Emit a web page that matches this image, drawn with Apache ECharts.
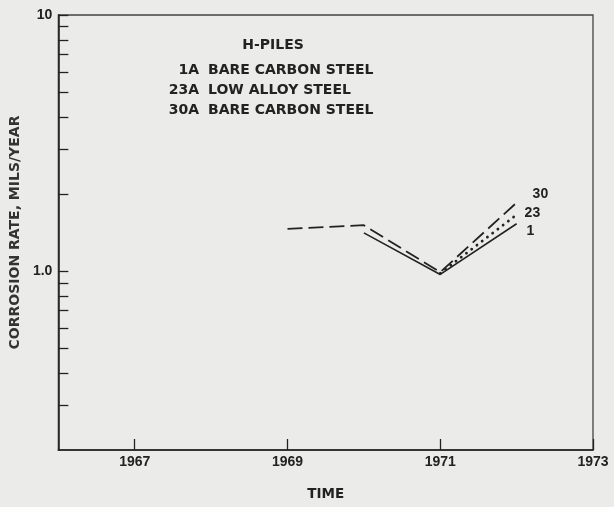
<!DOCTYPE html>
<html>
<head>
<meta charset="utf-8">
<script src="https://cdn.jsdelivr.net/npm/echarts@6/dist/echarts.min.js"></script>
<style>
html,body{margin:0;padding:0;background:#ebebe9;}
#c{width:614px;height:507px;}
</style>
</head>
<body>
<div id="c"></div>
<script>
// Data
var years1 = [1970, 1971, 1972];
var rate1 = [1.41, 0.97, 1.53];            // 1A bare carbon steel (solid)
var years23 = [1971, 1972];
var rate23 = [0.98, 1.66];                 // 23A low alloy steel (dotted)
var years30 = [1969, 1970, 1971, 1972];
var rate30 = [1.46, 1.51, 0.99, 1.85];     // 30A bare carbon steel (dashed)

var xTickYears = [1967, 1969, 1971, 1973];
var yMajorLabels = [1, 10];
var yTickValues = [0.3, 0.4, 0.5, 0.6, 0.7, 0.8, 0.9, 1, 2, 3, 4, 5, 6, 7, 8, 9, 10];

var legendTitle = 'H-PILES';
var legendCodes = ['1A', '23A', '30A'];
var legendNames = ['BARE CARBON STEEL', 'LOW ALLOY STEEL', 'BARE CARBON STEEL'];
var endNames = ['1', '23', '30'];

function pairs(xs, ys) { return xs.map(function (x, i) { return [x, ys[i]]; }); }

var ink = '#222';
var font = 'DejaVu Sans';
var numFont = 'Liberation Sans';

var graphics = [{
  type: 'text', x: 273, y: 45,
  style: { text: legendTitle, font: 'bold 14px ' + font, fill: ink, textAlign: 'center', textVerticalAlign: 'middle' }
}];
legendCodes.forEach(function (c, i) {
  graphics.push({ type: 'text', x: 199, y: 70 + i * 20,
    style: { text: c, font: 'bold 14px ' + font, fill: ink, textAlign: 'right', textVerticalAlign: 'middle' } });
  graphics.push({ type: 'text', x: 208, y: 70 + i * 20,
    style: { text: legendNames[i], font: 'bold 14px ' + font, fill: ink, textAlign: 'left', textVerticalAlign: 'middle' } });
});

var chart = echarts.init(document.getElementById('c'), null, { renderer: 'canvas' });
chart.setOption({
  animation: false,
  backgroundColor: '#ebebe9',
  grid: { left: 58, right: 21, top: 15, bottom: 57, show: true, borderColor: '#444', borderWidth: 1.3, backgroundColor: 'transparent' },
  xAxis: {
    type: 'value', min: 1966, max: 1973,
    name: 'TIME', nameLocation: 'middle', nameGap: 37,
    nameTextStyle: { fontFamily: font, fontWeight: 'bold', fontSize: 13.5, color: ink },
    axisLine: { show: true, onZero: false, lineStyle: { color: ink, width: 1.6 } },
    axisTick: { show: true, inside: true, length: 11, customValues: xTickYears, lineStyle: { color: ink, width: 1.3 } },
    axisLabel: { customValues: xTickYears, fontFamily: numFont, fontWeight: 'bold', fontSize: 14, color: ink, margin: 5,
      formatter: function (v) { return String(Math.round(v)); } },
    splitLine: { show: false }
  },
  yAxis: {
    type: 'log', logBase: 10, min: 0.2, max: 10,
    name: 'CORROSION RATE, MILS/YEAR', nameLocation: 'middle', nameGap: 33, nameRotate: 90,
    nameTextStyle: { fontFamily: font, fontWeight: 'bold', fontSize: 14, color: '#333' },
    axisLine: { show: true, onZero: false, lineStyle: { color: ink, width: 1.6 } },
    axisTick: { show: true, inside: true, length: 10, customValues: yTickValues, lineStyle: { color: ink, width: 1.3 } },
    axisLabel: {
      customValues: yMajorLabels, fontFamily: numFont, fontWeight: 'bold', fontSize: 14, color: ink, margin: 6,
      formatter: function (v) { return Math.abs(v - 1) < 1e-6 ? '1.0' : String(Math.round(v)); }
    },
    splitLine: { show: false }
  },
  graphic: graphics,
  series: [
    {
      name: legendCodes[0], type: 'line', data: pairs(years1, rate1), symbol: 'none',
      lineStyle: { color: ink, width: 1.6, type: 'solid' },
      endLabel: { show: true, formatter: endNames[0], offset: [2, 7], fontFamily: numFont, fontWeight: 'bold', fontSize: 14, color: ink }
    },
    {
      name: legendCodes[1], type: 'line', data: pairs(years23, rate23), symbol: 'none',
      lineStyle: { color: ink, width: 2.8, type: [0.1, 6.5], cap: 'round' },
      endLabel: { show: true, formatter: endNames[1], offset: [0, -2], fontFamily: numFont, fontWeight: 'bold', fontSize: 14, color: ink }
    },
    {
      name: legendCodes[2], type: 'line', data: pairs(years30, rate30), symbol: 'none',
      lineStyle: { color: ink, width: 1.8, type: [15, 6] },
      endLabel: { show: true, formatter: endNames[2], offset: [8, -8], fontFamily: numFont, fontWeight: 'bold', fontSize: 14, color: ink }
    }
  ]
});
</script>
</body>
</html>
